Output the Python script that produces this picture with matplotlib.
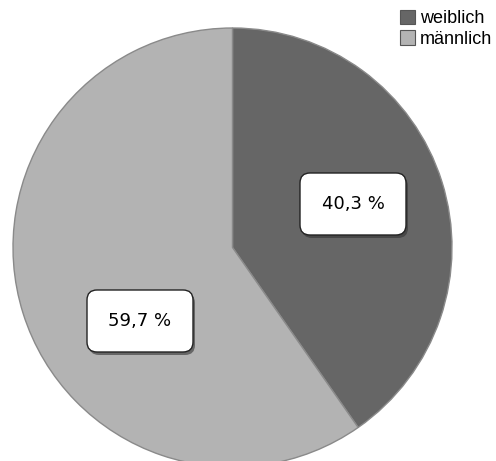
import matplotlib
matplotlib.use('Agg')
import matplotlib.pyplot as plt
from matplotlib.patches import FancyBboxPatch, Patch

labels = ['weiblich', 'männlich']
shares = [40.3, 59.7]
colors = ['#666666', '#b3b3b3']
pct_texts = ['40,3 %', '59,7 %']

fig = plt.figure(figsize=(4.96, 4.61), dpi=100)
ax = fig.add_axes([0, 0, 1, 1])

ax.pie(shares, colors=colors, startangle=90, counterclock=False,
       center=(232.5, 213.5), radius=219.5, frame=True,
       wedgeprops=dict(edgecolor='#8a8a8a', linewidth=1))
ax.set_xlim(0, 496)
ax.set_ylim(0, 461)
ax.set_aspect('equal')
ax.axis('off')

# label boxes (center positions in pixels)
box_pos = [(353, 257), (140, 140)]
bw, bh = 106, 62
for (cx, cy), txt in zip(box_pos, pct_texts):
    shadow = FancyBboxPatch((cx - bw / 2 + 2, cy - bh / 2 - 3), bw, bh,
                            boxstyle='round,pad=0,rounding_size=10',
                            fc='#333333', ec='none', alpha=0.6, zorder=3)
    ax.add_patch(shadow)
    box = FancyBboxPatch((cx - bw / 2, cy - bh / 2), bw, bh,
                         boxstyle='round,pad=0,rounding_size=10',
                         fc='white', ec='#222222', lw=1, zorder=4)
    ax.add_patch(box)
    ax.text(cx, cy, txt, ha='center', va='center', fontsize=13,
            family='DejaVu Sans', zorder=5)

handles = [Patch(facecolor=c, edgecolor='#555555', linewidth=0.8) for c in colors]
fig.legend(handles, labels, loc='upper left', bbox_to_anchor=(400 / 496, 1 - 10 / 461),
           frameon=False, handlelength=0.85, handleheight=0.85,
           handletextpad=0.25, labelspacing=0.15, borderpad=0, borderaxespad=0,
           prop={'family': 'Liberation Sans', 'size': 13})

fig.savefig('out.png', dpi=100)
